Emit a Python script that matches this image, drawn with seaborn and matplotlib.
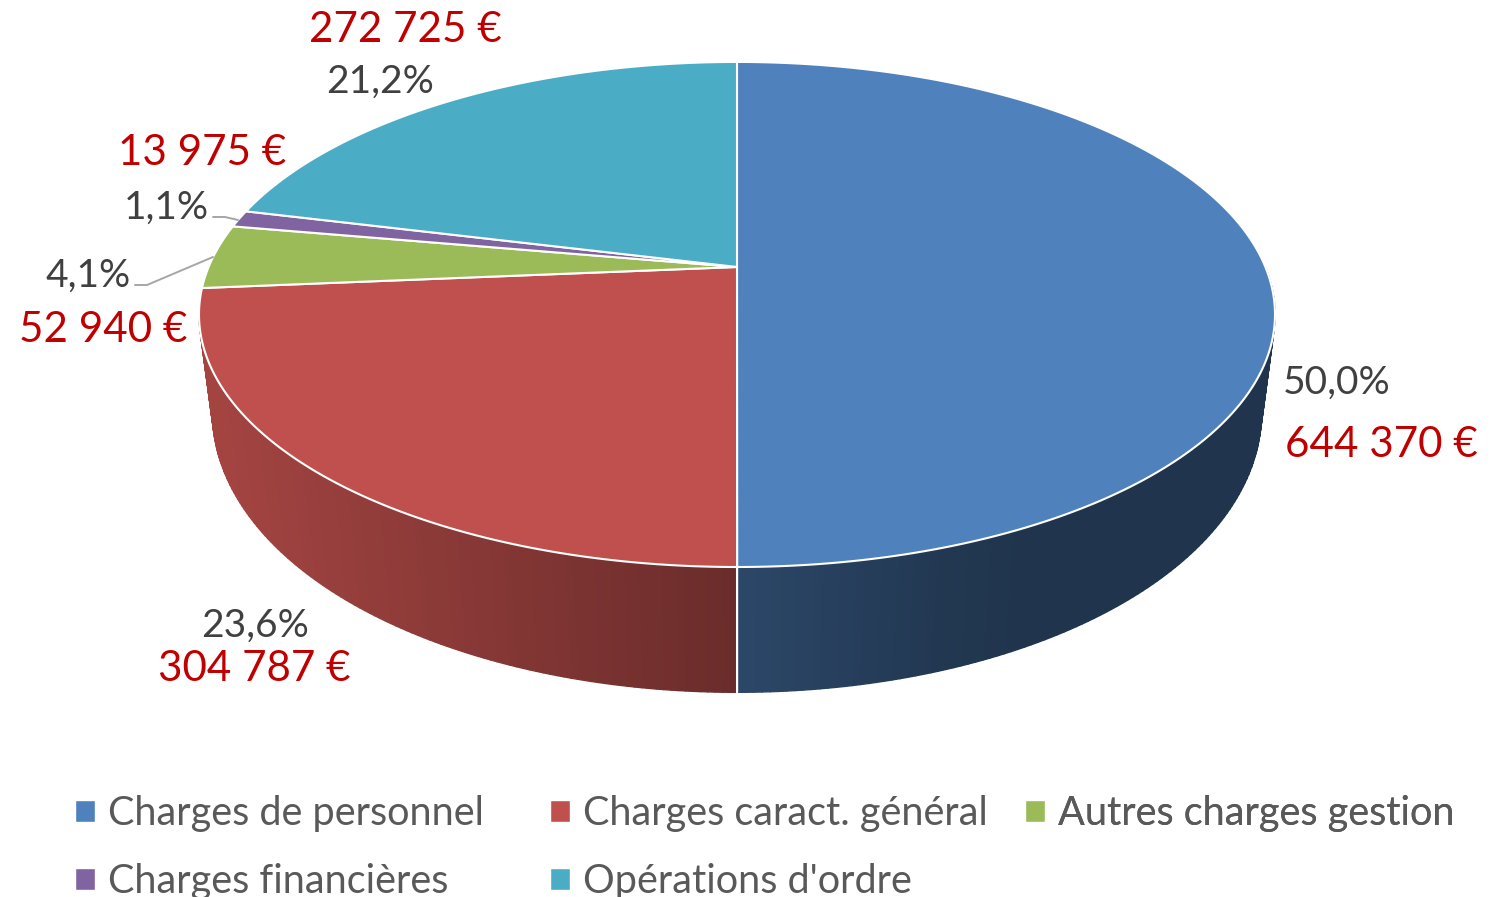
import numpy as np
import matplotlib
matplotlib.use('Agg')
import matplotlib.pyplot as plt
from matplotlib.collections import PolyCollection
from matplotlib.patches import Patch
import seaborn as sns

# Data
categories = ['Charges de personnel', 'Charges caract. général', 'Autres charges gestion',
              'Charges financières', "Opérations d'ordre"]
values = [644370, 304787, 52940, 13975, 272725]
colors = ['#4F81BD', '#C0504D', '#9BBB59', '#8064A2', '#4BACC6']

pct_pos = [(1337, 383), (255, 626), (88, 276), (166, 208), (380, 82)]
val_pos = [(1381, 445), (254, 669), (103, 330), (202, 153), (405, 30)]

sns.set_theme(style='white')
plt.rcParams['font.family'] = ['Lato', 'DejaVu Sans']
palette = sns.color_palette(colors)

fig = plt.figure(figsize=(14.99, 8.97), dpi=100)
ax = fig.add_axes([0, 0, 1, 1])
ax.set_xlim(0, 1499)
ax.set_ylim(897, 0)
ax.axis('off')

# Perspective of the pie's top face (angle is clockwise from the top)
cx, cy = 737, 267
k, a, b = 0.188, 528.4, 243.6


def top_rim(phi):
    u, v = np.sin(phi), np.cos(phi)
    w = 1 + k * v
    return cx + a * u / w, cy - b * v / w


def low_rim(phi):
    # side edges converge to a point far under the pie
    x, y = top_rim(phi)
    s = 0.977 + 0.01035 * np.cos(phi)
    return cx + s * (x - cx), 4324 + s * (y - 4324)


def shade(x):
    return np.interp(x, [215, 737, 950, 1010], [0.85, 0.55, 0.43, 0.41])


total = sum(values)
edges = np.cumsum([0] + values) / total * 2 * np.pi

# Side wall, only the part facing us
for i in range(len(values)):
    start = max(edges[i], np.pi / 2)
    end = min(edges[i + 1], np.radians(260))
    if end <= start:
        continue
    phis = np.linspace(start, end, 120)
    x0, y0 = top_rim(phis)
    x1, y1 = low_rim(phis)
    strips = []
    strip_colors = []
    for j in range(len(phis) - 1):
        strips.append([(x0[j], y0[j]), (x0[j + 1], y0[j + 1]), (x1[j + 1], y1[j + 1]), (x1[j], y1[j])])
        strip_colors.append(np.array(palette[i]) * shade((x0[j] + x0[j + 1]) / 2))
    ax.add_collection(PolyCollection(strips, facecolors=strip_colors, edgecolors='face', linewidths=1.0))

# White seam where the two front slices meet
seam = edges[1]
ax.plot([top_rim(seam)[0], low_rim(seam)[0]], [top_rim(seam)[1], low_rim(seam)[1]], color='white', lw=1.6)

# Top face
for i in range(len(values)):
    phis = np.linspace(edges[i], edges[i + 1], 300)
    x, y = top_rim(phis)
    ax.fill(np.r_[cx, x], np.r_[cy, y], facecolor=palette[i], edgecolor='white', lw=1.5, joinstyle='round')

# Leader lines for the two small slices
ax.plot([135, 147, 213], [285, 285, 257], color='#A6A6A6', lw=1.4)
ax.plot([213, 225, 238], [217, 217, 220], color='#A6A6A6', lw=1.4)

# Labels
for i, v in enumerate(values):
    pct = f'{v / total * 100:.1f}%'.replace('.', ',')
    money = f'{v:,} €'.replace(',', ' ')
    ax.text(*pct_pos[i], pct, color='#404040', fontsize=28, ha='center', va='center')
    ax.text(*val_pos[i], money, color='#C00000', fontsize=30.3, ha='center', va='center')

# Legend: one per column so the columns stay evenly spaced
columns = [([0, 3], 0.0503), ([1, 4], 0.3672), ([2], 0.6841)]
for idx, left in columns:
    handles = [Patch(facecolor=palette[n], label=categories[n]) for n in idx]
    leg = ax.legend(handles=handles, loc='upper left', bbox_to_anchor=(left, 1 - 795 / 897), frameon=False,
                    fontsize=28.5, labelcolor='#595959', handlelength=0.5, handleheight=0.5,
                    handletextpad=0.33, labelspacing=0.78, borderpad=0, borderaxespad=0)
    ax.add_artist(leg)

fig.savefig('out.png', dpi=100)
